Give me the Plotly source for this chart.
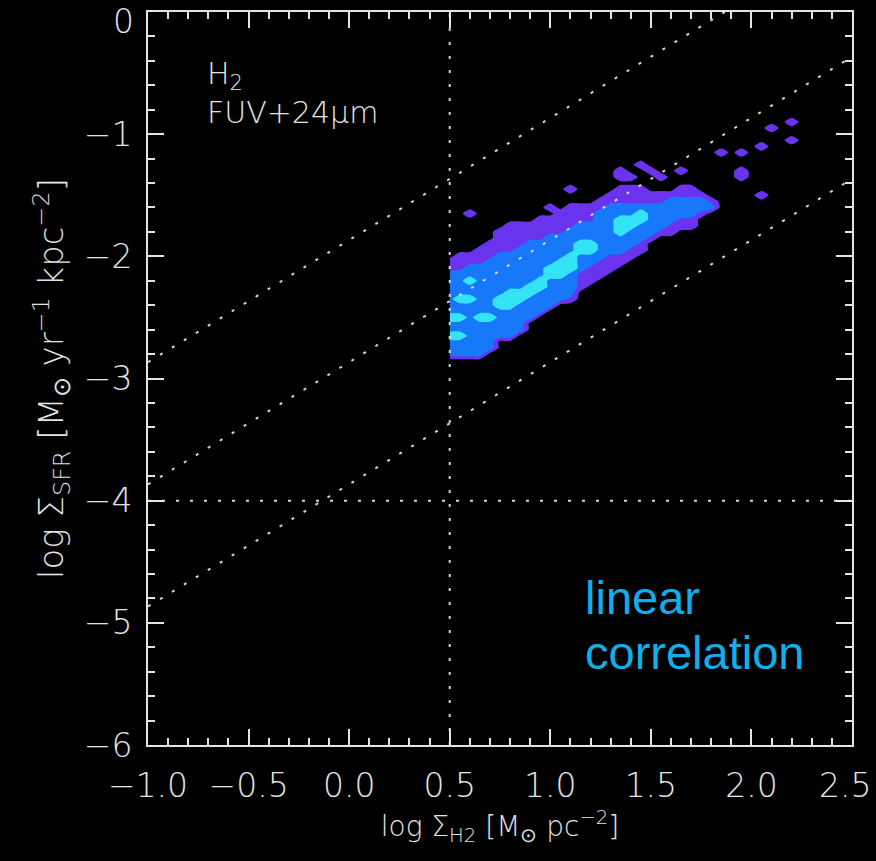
import numpy as np
import plotly.graph_objects as go

# Axes: log Sigma_H2 [Msun pc^-2] vs log Sigma_SFR [Msun yr^-1 kpc^-2]
X_RANGE = [-1.0, 2.5]
Y_RANGE = [-6.0, 0.0]
X_TICKS = [-1.0, -0.5, 0.0, 0.5, 1.0, 1.5, 2.0, 2.5]
Y_TICKS = [-6, -5, -4, -3, -2, -1, 0]

# Pixel-count density of the H2 / FUV+24um sample
# (. = empty, 1 = low, 2 = intermediate, 3 = high)
GRID_X0, GRID_DX = 0.50, 0.05     # log Sigma_H2 of the first column, column step
GRID_Y0, GRID_DY = -0.85, -0.05   # log Sigma_SFR of the first row, row step
DENSITY_ROWS = [
    ".......... .......... .......... .......",
    ".......... .......... .......... ....1..",
    ".......... .......... .......... ..1....",
    ".......... .......... .......... .......",
    ".......... .......... .......... ....1..",
    ".......... .......... .......... .1.....",
    ".......... .......... .......1.1 .......",
    ".......... .......... .......... .......",
    ".......... .........1 .......... .......",
    ".......... .......1.. 1..1.....1 .......",
    ".......... .......11. .1.......1 .......",
    ".......... .......... .......... .......",
    ".......... ..1....111 ...11..... .......",
    ".......... ......1111 111111.... .1.....",
    ".......... .....11111 1122221... .......",
    ".......... 1.11112222 2222222... .......",
    "..1....... .111122223 222221.... .......",
    ".........1 1111122333 22211..... .......",
    "......1111 1112222332 22111..... .......",
    ".....11111 1122222322 211....... .......",
    ".....11111 2222222222 1......... .......",
    "....111122 2223322221 .......... .......",
    "...1111222 2223322211 .......... .......",
    ".111122222 223222111. .......... .......",
    "1111222222 23322111.. .......... .......",
    "1122222222 3332111... .......... .......",
    "2222222222 332111.... .......... .......",
    "2232222223 22211..... .......... .......",
    "2222222233 2221...... .......... .......",
    "2222223332 222....... .......... .......",
    "2332233322 221....... .......... .......",
    "2222233222 2......... .......... .......",
    "2222222222 .......... .......... .......",
    "332332222. .......... .......... .......",
    "22222222.. .......... .......... .......",
    "22222222.. .......... .......... .......",
    "3322222... .......... .......... .......",
    "22222..... .......... .......... .......",
    "22222..... .......... .......... .......",
    "2222...... .......... .......... .......",
    ".......... .......... .......... .......",
]

# Constant star formation efficiency: fraction of the gas (incl. helium)
# consumed in 1e8 yr
SFE_FRACTIONS = [1.0, 0.1, 0.01]
HELIUM_FACTOR = 1.36
TIMESCALE_YR = 1e8

# Sensitivity limits
H2_LIMIT = 0.5
SFR_LIMIT = -4.0

FG = "#e4e4e4"
DOT = "#d6d6d6"
LEVEL_COLORS = ["#000000", "#6a34ee", "#1779fa", "#35e3f6"]


def fmt(v, nd):
    return f"{v:.{nd}f}".replace("-", "\u2212")


z = np.array([[0 if c == "." else int(c) for c in row.replace(" ", "")]
              for row in DENSITY_ROWS], dtype=float)
nrows, ncols = z.shape
gx = GRID_X0 + GRID_DX * np.arange(ncols)
gy = GRID_Y0 + GRID_DY * np.arange(nrows)

fig = go.Figure()

k = LEVEL_COLORS
fig.add_trace(go.Contour(
    x=gx, y=gy, z=z,
    autocontour=False,
    contours=dict(start=0.3, end=2.3, size=1, coloring="fill", showlines=False),
    colorscale=[[0, k[0]], [1/6, k[0]], [1/6, k[1]], [0.5, k[1]],
                [0.5, k[2]], [5/6, k[2]], [5/6, k[3]], [1, k[3]]],
    line=dict(width=0, smoothing=0.6),
    showscale=False, hoverinfo="skip",
))

xs = np.array(X_RANGE)
for f in SFE_FRACTIONS:
    offset = np.log10(f * HELIUM_FACTOR * 1e6 / TIMESCALE_YR)
    fig.add_trace(go.Scatter(
        x=xs, y=xs + offset, mode="lines",
        line=dict(color=DOT, width=2, dash="3px,11px"),
        hoverinfo="skip", showlegend=False,
    ))

fig.add_trace(go.Scatter(x=[H2_LIMIT, H2_LIMIT], y=Y_RANGE, mode="lines",
                         line=dict(color=DOT, width=2, dash="3px,11px"),
                         hoverinfo="skip", showlegend=False))
fig.add_trace(go.Scatter(x=X_RANGE, y=[SFR_LIMIT, SFR_LIMIT], mode="lines",
                         line=dict(color=DOT, width=2, dash="3px,11px"),
                         hoverinfo="skip", showlegend=False))

tick_font = dict(family="DejaVu Sans", size=33, color=FG, weight=300)
axis_common = dict(
    showgrid=False, zeroline=False, automargin=False,
    showline=True, linewidth=2, linecolor=FG, mirror="ticks",
    ticks="inside", ticklen=16, tickwidth=2, tickcolor=FG,
    tickfont=tick_font, ticklabeloverflow="allow",
)

# The end labels (2.5 and 0) are nudged inward so they stay on the page
x_text = [fmt(v, 1) for v in X_TICKS]
y_text = [fmt(v, 0) for v in Y_TICKS]
x_edge_label, x_text[-1] = x_text[-1], ""
y_edge_label, y_text[-1] = y_text[-1], ""

fig.update_xaxes(
    range=X_RANGE, tickmode="array", tickvals=X_TICKS, ticktext=x_text,
    minor=dict(tickmode="linear", tick0=-1.0, dtick=0.1, ticks="inside",
               ticklen=7, tickwidth=2, tickcolor=FG),
    ticklabelstandoff=10,
    title=dict(text="log Σ<sub>H2</sub> [M<sub>⊙</sub> pc<sup>−2</sup>]",
               font=dict(family="DejaVu Sans", size=28, color=FG, weight=300),
               standoff=13),
    **axis_common,
)
fig.update_yaxes(
    range=Y_RANGE, tickmode="array", tickvals=Y_TICKS, ticktext=y_text,
    minor=dict(tickmode="linear", tick0=-6, dtick=0.2, ticks="inside",
               ticklen=7, tickwidth=2, tickcolor=FG),
    ticklabelstandoff=7,
    title=dict(text="log Σ<sub>SFR</sub> [M<sub>⊙</sub> yr<sup>−1</sup> kpc<sup>−2</sup>]",
               font=dict(family="DejaVu Sans", size=34, color=FG, weight=300),
               standoff=10),
    **axis_common,
)

fig.add_annotation(x=X_TICKS[-1], y=0, xref="x", yref="paper",
                   text=x_edge_label, showarrow=False,
                   xanchor="right", yanchor="top", xshift=21, yshift=-19,
                   font=tick_font)
fig.add_annotation(x=0, y=Y_TICKS[-1], xref="paper", yref="y",
                   text=y_edge_label, showarrow=False,
                   xanchor="right", yanchor="top", xshift=-12, yshift=12,
                   font=tick_font)

label_font = dict(family="DejaVu Sans", size=30, color=FG, weight=300)
fig.add_annotation(x=-0.716, y=-0.66, xref="x", yref="y",
                   text="H<sub>2</sub><br>FUV+24μm",
                   showarrow=False, xanchor="left", yanchor="middle", align="left",
                   font=label_font)

note_font = dict(family="Liberation Sans", size=47, color="#12aeea")
fig.add_annotation(x=1.164, y=-4.795, xref="x", yref="y", text="linear",
                   showarrow=False, xanchor="left", yanchor="middle", font=note_font)
fig.add_annotation(x=1.164, y=-5.245, xref="x", yref="y", text="correlation",
                   showarrow=False, xanchor="left", yanchor="middle", font=note_font)

fig.update_layout(
    width=876, height=861,
    margin=dict(l=148, r=24, t=12, b=116),
    paper_bgcolor="#000000", plot_bgcolor="#000000",
    showlegend=False,
)

fig.write_html("out.html")
